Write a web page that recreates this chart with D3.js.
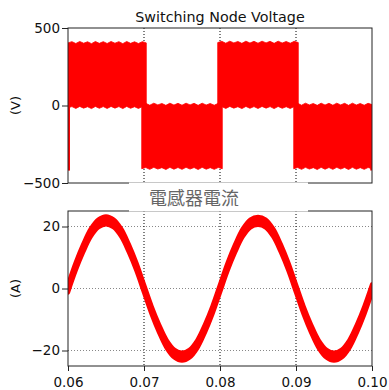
<!DOCTYPE html>
<html>
<head>
<meta charset="utf-8">
<script src="https://cdn.jsdelivr.net/npm/d3@7"></script>
<style>
  body { margin: 0; background: #fff; }
  svg { display: block; font-family: "DejaVu Sans", Verdana, sans-serif; }
</style>
</head>
<body>
<svg id="chart" width="389" height="390"></svg>
<script>
// time axis (s)
const timeDomain = [0.06, 0.10];
const timeTicks = [0.06, 0.07, 0.08, 0.09, 0.10];
const gridTimes = [0.07, 0.08, 0.09];

// switching node voltage: four PWM blocks (dense switching drawn as a band)
const blockStart = [0.0600, 0.0697, 0.0797, 0.0897];
const blockEnd = [0.0703, 0.0803, 0.0903, 0.1000];
const blockHigh = [404, 6, 406, 6];
const blockLow = [-15, -408, -15, -408];
// small scallops on the band edges (V)
const edgeRipple = [0, 8, -4, 9, -2, 7, -5, 9, -3, 8, -4, 9, -2, 8, -5, 9, -3, 7, -4, 8, 0];
// start-up spike at the left edge
const spikeTime = 0.0601;
const spikeLow = -420;
const voltTicks = [-500, 0, 500];

// inductor current, centre of the ripple band every 1 ms (A)
const curTime = [0.060, 0.061, 0.062, 0.063, 0.064, 0.065, 0.066, 0.067, 0.068, 0.069,
  0.070, 0.071, 0.072, 0.073, 0.074, 0.075, 0.076, 0.077, 0.078, 0.079,
  0.080, 0.081, 0.082, 0.083, 0.084, 0.085, 0.086, 0.087, 0.088, 0.089,
  0.090, 0.091, 0.092, 0.093, 0.094, 0.095, 0.096, 0.097, 0.098, 0.099, 0.100];
const curValue = [0, 7, 13, 18, 21, 22, 21, 18, 13, 7,
  0, -7, -13, -18, -21, -22, -21, -18, -13, -7,
  0, 7, 13, 18, 21, 21.8, 21, 18, 13, 7,
  0, -7, -13, -18, -21, -22, -21, -18, -13, -7, 0];
const curRipple = 1.3; // half height of the ripple band
const curTicks = [-20, 0, 20];

const svg = d3.select("#chart");
const left = 68, right = 372;
const top1 = 28, bottom1 = 183;
const top2 = 211, bottom2 = 366;
const red = "#ff0000";

const x = d3.scaleLinear().domain(timeDomain).range([left, right]);
const yV = d3.scaleLinear().domain([-500, 500]).range([bottom1, top1]);
const yA = d3.scaleLinear().domain([-25, 25]).range([bottom2, top2]);

const defs = svg.append("defs");
defs.append("clipPath").attr("id", "clip1")
  .append("rect").attr("x", left).attr("y", top1).attr("width", right - left).attr("height", bottom1 - top1);
defs.append("clipPath").attr("id", "clip2")
  .append("rect").attr("x", left).attr("y", top2).attr("width", right - left).attr("height", bottom2 - top2);

// ---------- top panel: switching node voltage ----------
const g1 = svg.append("g");

// grid
g1.append("g").selectAll("line").data(gridTimes).join("line")
  .attr("x1", d => x(d)).attr("x2", d => x(d))
  .attr("y1", top1).attr("y2", bottom1)
  .attr("stroke", "#000").attr("stroke-dasharray", "1,2");
g1.append("line")
  .attr("x1", left).attr("x2", right).attr("y1", yV(0)).attr("y2", yV(0))
  .attr("stroke", "#888").attr("stroke-dasharray", "1,2");

const voltArea = d3.area()
  .x(d => x(d.t))
  .y0(d => yV(d.lo))
  .y1(d => yV(d.hi));

const blocks = blockStart.map((s, i) => {
  const n = edgeRipple.length;
  return edgeRipple.map((r, j) => ({
    t: s + (blockEnd[i] - s) * j / (n - 1),
    hi: blockHigh[i] + r,
    lo: blockLow[i] + r
  }));
});

const data1 = g1.append("g").attr("clip-path", "url(#clip1)");
data1.selectAll("path").data(blocks).join("path")
  .attr("d", voltArea)
  .attr("fill", red)
  .attr("stroke", red)
  .attr("stroke-width", 0.8);
data1.append("line")
  .attr("x1", x(spikeTime)).attr("x2", x(spikeTime))
  .attr("y1", yV(0)).attr("y2", yV(spikeLow))
  .attr("stroke", red).attr("stroke-width", 2.5);
data1.append("line")
  .attr("x1", x(0.0999)).attr("x2", x(0.0999))
  .attr("y1", yV(0)).attr("y2", yV(spikeLow))
  .attr("stroke", red).attr("stroke-width", 2);

// frame
g1.append("rect")
  .attr("x", left).attr("y", top1).attr("width", right - left).attr("height", bottom1 - top1)
  .attr("fill", "none").attr("stroke", "#222");

// y axis
const axV = g1.append("g").attr("transform", `translate(${left},0)`)
  .call(d3.axisLeft(yV).tickValues(voltTicks).tickSize(6).tickPadding(2).tickSizeOuter(0));
axV.select(".domain").remove();

g1.append("text")
  .attr("x", 220).attr("y", 22)
  .attr("text-anchor", "middle")
  .attr("font-size", 14.3)
  .attr("fill", "#111")
  .text("Switching Node Voltage");

g1.append("text")
  .attr("transform", `translate(19.5,${(top1 + bottom1) / 2}) rotate(-90)`)
  .attr("text-anchor", "middle")
  .attr("font-size", 13)
  .attr("fill", "#111")
  .text("(V)");

// ---------- bottom panel: inductor current ----------
const g2 = svg.append("g");

g2.append("g").selectAll("line").data(curTicks).join("line")
  .attr("x1", left).attr("x2", right)
  .attr("y1", d => yA(d)).attr("y2", d => yA(d))
  .attr("stroke", "#888").attr("stroke-dasharray", "1,2");
g2.append("g").selectAll("line").data(gridTimes).join("line")
  .attr("x1", d => x(d)).attr("x2", d => x(d))
  .attr("y1", top2).attr("y2", bottom2)
  .attr("stroke", "#000").attr("stroke-dasharray", "1,2");

const curData = curTime.map((t, i) => ({ t, v: curValue[i] }));
const curArea = d3.area()
  .curve(d3.curveCatmullRom)
  .x(d => x(d.t))
  .y0(d => yA(d.v - curRipple))
  .y1(d => yA(d.v + curRipple));

g2.append("g").attr("clip-path", "url(#clip2)")
  .append("path")
  .datum(curData)
  .attr("d", curArea)
  .attr("fill", red)
  .attr("stroke", red)
  .attr("stroke-width", 4.2)
  .attr("stroke-linejoin", "round");

g2.append("rect")
  .attr("x", left).attr("y", top2).attr("width", right - left).attr("height", bottom2 - top2)
  .attr("fill", "none").attr("stroke", "#222");

const axA = g2.append("g").attr("transform", `translate(${left},0)`)
  .call(d3.axisLeft(yA).tickValues(curTicks).tickSize(6).tickPadding(2).tickSizeOuter(0));
axA.select(".domain").remove();

const axT = g2.append("g").attr("transform", `translate(0,${bottom2})`)
  .call(d3.axisBottom(x).tickValues(timeTicks).tickFormat(d3.format(".2f")).tickSize(5).tickPadding(6).tickSizeOuter(0));
axT.select(".domain").remove();

g2.append("text")
  .attr("transform", `translate(19.5,${(top2 + bottom2) / 2}) rotate(-90)`)
  .attr("text-anchor", "middle")
  .attr("font-size", 13)
  .attr("fill", "#111")
  .text("(A)");

svg.selectAll(".tick text")
  .attr("font-size", 13.5)
  .attr("font-family", "DejaVu Sans, sans-serif")
  .attr("fill", "#111");
svg.selectAll(".tick line").attr("stroke", "#222");

// title box of the second panel, covering the frames between the panels
svg.append("rect")
  .attr("x", 129).attr("y", bottom1 - 0.5).attr("width", 179).attr("height", top2 - bottom1 + 1)
  .attr("fill", "#fff");
svg.append("text")
  .attr("x", 194).attr("y", 205)
  .attr("text-anchor", "middle")
  .attr("font-size", 18)
  .attr("font-family", "Noto Sans CJK TC, sans-serif")
  .attr("fill", "#666")
  .text("電感器電流");
</script>
</body>
</html>
